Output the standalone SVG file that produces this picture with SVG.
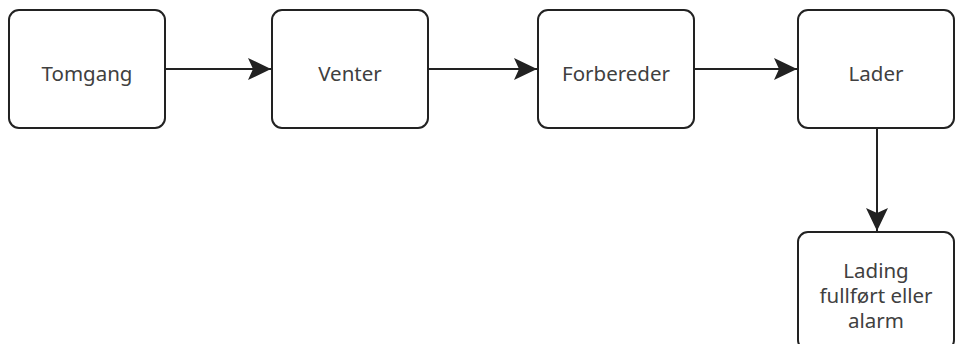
<svg xmlns="http://www.w3.org/2000/svg" width="957" height="344" viewBox="0 0 957 344">
  <style>
    .box { fill: #ffffff; stroke: #222222; stroke-width: 2; }
    .label { font-family: "Noto Sans", "Open Sans", sans-serif; font-size: 20.5px; fill: #404040; text-anchor: middle; }
    .edge { stroke: #222222; stroke-width: 2; fill: none; marker-end: url(#arrow); }
  </style>
  <defs>
    <marker id="arrow" markerUnits="userSpaceOnUse" markerWidth="24" markerHeight="22" refX="23" refY="11" orient="auto">
      <path d="M0,0 L23,11 L0,22 L5,11 Z" fill="#222222"/>
    </marker>
  </defs>
  <rect width="957" height="344" fill="#ffffff"/>

  <g id="edges">
    <line class="edge" x1="165" y1="69" x2="271" y2="69"/>
    <line class="edge" x1="428" y1="69" x2="537" y2="69"/>
    <line class="edge" x1="694" y1="69" x2="797" y2="69"/>
    <line class="edge" x1="877" y1="128" x2="877" y2="231"/>
  </g>

  <g id="tomgang">
    <rect class="box" x="9" y="10" width="156" height="118" rx="10"/>
    <text class="label" x="87" y="81">Tomgang</text>
  </g>
  <g id="venter">
    <rect class="box" x="272" y="10" width="156" height="118" rx="10"/>
    <text class="label" x="350" y="81">Venter</text>
  </g>
  <g id="forbereder">
    <rect class="box" x="538" y="10" width="156" height="118" rx="10"/>
    <text class="label" x="616" y="81">Forbereder</text>
  </g>
  <g id="lader">
    <rect class="box" x="798" y="10" width="156" height="118" rx="10"/>
    <text class="label" x="876" y="81">Lader</text>
  </g>
  <g id="ferdig">
    <rect class="box" x="798" y="232" width="156" height="118" rx="10"/>
    <text class="label" x="876" y="278"><tspan x="876">Lading</tspan><tspan x="876" dy="25">fullført eller</tspan><tspan x="876" dy="25">alarm</tspan></text>
  </g>
</svg>
